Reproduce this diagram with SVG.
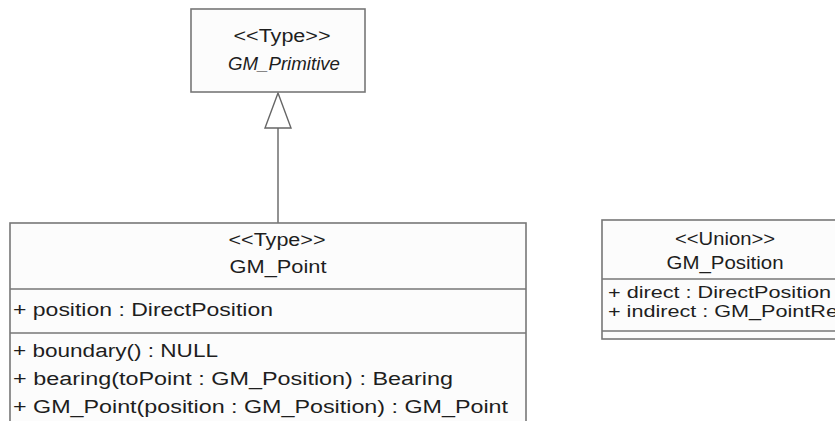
<svg xmlns="http://www.w3.org/2000/svg" width="835" height="421" viewBox="0 0 835 421">
  <style>
    .box { fill: #fcfcfc; stroke: #777777; stroke-width: 1.6; }
    .div { stroke: #777777; stroke-width: 1.6; fill: none; }
    .txt { font-family: "Liberation Sans", Arial, sans-serif; font-size: 18px; fill: #1e1e1e; }
    .small { font-size: 16px; }
    .mid { text-anchor: middle; }
    .ital { font-style: italic; }
    .edge { stroke: #777777; stroke-width: 1.6; fill: none; }
    .head { fill: #ffffff; stroke: #666666; stroke-width: 1.4; }
  </style>
  <rect width="835" height="421" fill="#ffffff"/>

  <!-- generalization: GM_Point specializes GM_Primitive -->
  <g id="connectors">
    <line class="edge" x1="278" y1="128" x2="278" y2="223"/>
    <polygon class="head" points="278,93 291,128 265,128"/>
  </g>

  <g id="GM_Primitive">
    <rect class="box" x="191" y="9" width="174" height="83"/>
    <text class="txt mid" x="282" y="42" textLength="97" lengthAdjust="spacingAndGlyphs">&lt;&lt;Type&gt;&gt;</text>
    <text class="txt mid ital" x="284" y="70" textLength="112" lengthAdjust="spacingAndGlyphs">GM_Primitive</text>
  </g>

  <g id="GM_Point">
    <rect class="box" x="10" y="223" width="516" height="210"/>
    <line class="div" x1="10" y1="289" x2="526" y2="289"/>
    <line class="div" x1="10" y1="333" x2="526" y2="333"/>
    <text class="txt mid" x="277" y="246" textLength="97" lengthAdjust="spacingAndGlyphs">&lt;&lt;Type&gt;&gt;</text>
    <text class="txt mid" x="278" y="273" textLength="97" lengthAdjust="spacingAndGlyphs">GM_Point</text>
    <text class="txt" x="13" y="316" textLength="260" lengthAdjust="spacingAndGlyphs">+ position : DirectPosition</text>
    <text class="txt" x="13" y="357" textLength="205" lengthAdjust="spacingAndGlyphs">+ boundary() : NULL</text>
    <text class="txt" x="13" y="385" textLength="440" lengthAdjust="spacingAndGlyphs">+ bearing(toPoint : GM_Position) : Bearing</text>
    <text class="txt" x="13" y="413" textLength="495" lengthAdjust="spacingAndGlyphs">+ GM_Point(position : GM_Position) : GM_Point</text>
  </g>

  <g id="GM_Position">
    <rect class="box" x="602" y="220" width="250" height="119"/>
    <line class="div" x1="602" y1="279" x2="852" y2="279"/>
    <line class="div" x1="602" y1="331" x2="852" y2="331"/>
    <text class="txt mid" x="725" y="245" textLength="100" lengthAdjust="spacingAndGlyphs">&lt;&lt;Union&gt;&gt;</text>
    <text class="txt mid" x="725" y="269" textLength="117" lengthAdjust="spacingAndGlyphs">GM_Position</text>
    <text class="txt small" x="608" y="298" textLength="223" lengthAdjust="spacingAndGlyphs">+ direct : DirectPosition</text>
    <text class="txt small" x="608" y="317" textLength="236" lengthAdjust="spacingAndGlyphs">+ indirect : GM_PointRef</text>
  </g>
</svg>
